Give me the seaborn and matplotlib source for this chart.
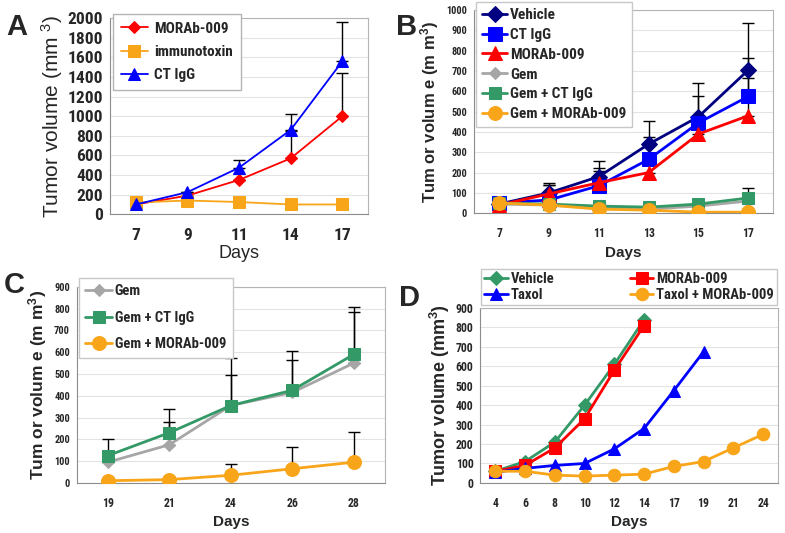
import numpy as np
import matplotlib
matplotlib.use("Agg")
import matplotlib.pyplot as plt
import seaborn as sns

# ---- data ----
# panel A
days_a = ["7", "9", "11", "14", "17"]
a_morab = [100, 190, 350, 570, 1000]
a_immuno = [120, 140, 125, 100, 100]
a_ctigg = [100, 225, 475, 860, 1560]
a_morab_err = [0, 0, 0, 280, 440]
a_ctigg_err = [0, 0, 75, 165, 405]

# panel B
days_b = ["7", "9", "11", "13", "15", "17"]
b_vehicle = [45, 100, 180, 340, 475, 705]
b_ctigg = [50, 65, 135, 265, 445, 575]
b_morab = [40, 95, 150, 200, 390, 480]
b_gem = [45, 40, 25, 20, 35, 60]
b_gem_ct = [50, 45, 35, 30, 45, 75]
b_gem_morab = [50, 40, 20, 15, 5, 5]
b_vehicle_err = [0, 50, 75, 115, 165, 230]
b_ctigg_err = [0, 75, 90, 110, 130, 190]
b_morab_err = [0, 45, 60, 70, 90, 185]
b_gem_ct_err = [0, 0, 0, 0, 0, 50]

# panel C
days_c = ["19", "21", "24", "26", "28"]
c_gem = [95, 175, 355, 415, 550]
c_gem_ct = [125, 230, 355, 425, 590]
c_gem_morab = [10, 15, 35, 65, 95]
c_gem_err = [50, 105, 140, 150, 235]
c_gem_ct_err = [75, 110, 220, 180, 215]
c_gem_morab_err = [10, 10, 50, 100, 140]

# panel D
days_d = ["4", "6", "8", "10", "12", "14", "17", "19", "21", "24"]
d_vehicle = [60, 110, 210, 400, 610, 840]
d_morab = [60, 90, 180, 330, 580, 810]
d_taxol = [55, 75, 90, 100, 175, 280, 475, 675]
d_taxol_morab = [60, 60, 40, 35, 40, 45, 85, 110, 180, 250]

RED = "#FF0000"
ORANGE = "#F9A51A"
BLUE = "#0000FF"
NAVY = "#000080"
GREY = "#A6A6A6"
GREEN = "#339966"

sns.set_style("white")
plt.rcParams["font.family"] = ["Liberation Sans", "DejaVu Sans"]
plt.rcParams["mathtext.default"] = "regular"
NARROW = ["Roboto Condensed", "Liberation Sans"]

fig = plt.figure(figsize=(7.85, 5.33), dpi=100)


def style_axes(ax, ncat, ymax, ystep, tick_fs, xtick_fs):
    ax.set_xlim(-0.5, ncat - 0.5)
    ax.set_ylim(0, ymax)
    ax.set_yticks(np.arange(0, ymax + 1, ystep))
    ax.yaxis.grid(True, color="#E3E3E3", lw=0.8)
    ax.set_axisbelow(True)
    for s in ["left", "bottom"]:
        ax.spines[s].set_color("#8C8C8C")
    for s in ["top", "right"]:
        ax.spines[s].set_color("#B4B4B4")
    ax.set_xticks(np.arange(ncat))
    ax.set_xticks(np.arange(ncat + 1) - 0.5, minor=True)
    ax.tick_params(axis="x", which="major", length=0, pad=10, labelsize=xtick_fs)
    ax.tick_params(axis="x", which="minor", length=4, color="#B4B4B4", direction="out")
    ax.tick_params(axis="y", length=3, color="#8C8C8C", direction="out", labelsize=tick_fs, pad=2)
    ax.tick_params(labelfontfamily=NARROW[0])
    for t in ax.get_xticklabels() + ax.get_yticklabels():
        t.set_fontweight("bold")


def series(ax, vals, color, marker, ms, lw, label, err=None, zorder=3):
    x = np.arange(len(vals))
    if err is not None:
        ax.errorbar(x, vals, yerr=[np.zeros(len(err)), err], fmt="none",
                    ecolor="black", elinewidth=1, capsize=4, capthick=1, zorder=2)
    sns.lineplot(x=x, y=vals, ax=ax, color=color, marker=marker, markersize=ms,
                 markeredgecolor=color, lw=lw, label=label, zorder=zorder)


def legend_font(size):
    return {"weight": "bold", "size": size, "family": NARROW}


# ---- A ----
ax = fig.add_axes([0.140, 0.598, 0.329, 0.368])
series(ax, a_morab, RED, "D", 6, 1.3, "MORAb-009", a_morab_err)
series(ax, a_immuno, ORANGE, "s", 8, 1.3, "immunotoxin")
series(ax, a_ctigg, BLUE, "^", 8, 1.3, "CT IgG", a_ctigg_err)
ax.set_xticklabels(days_a)
style_axes(ax, 5, 2000, 200, 12.5, 12.5)
ax.set_xlabel("Days", fontsize=13, labelpad=1)
ax.set_ylabel("Tumor volume (mm $^{3}$)", fontsize=15, labelpad=2)
ax.legend(loc="upper left", bbox_to_anchor=(0.012, 1.02), prop=legend_font(11),
          fancybox=False, edgecolor="#B4B4B4", framealpha=1, handlelength=1.8,
          handletextpad=0.4, labelspacing=0.6, borderpad=0.5, borderaxespad=0)

# ---- B ----
ax = fig.add_axes([0.604, 0.600, 0.381, 0.381])
series(ax, b_vehicle, NAVY, "D", 8, 2, "Vehicle", b_vehicle_err)
series(ax, b_ctigg, BLUE, "s", 10, 2, "CT IgG", b_ctigg_err)
series(ax, b_morab, RED, "^", 10, 2, "MORAb-009", b_morab_err)
series(ax, b_gem, GREY, "D", 6, 2, "Gem")
series(ax, b_gem_ct, GREEN, "s", 9, 2, "Gem + CT IgG", b_gem_ct_err)
series(ax, b_gem_morab, ORANGE, "o", 10, 2, "Gem + MORAb-009")
ax.set_xticklabels(days_b)
style_axes(ax, 6, 1000, 100, 7.5, 8.5)
ax.set_xlabel("Days", fontsize=11, fontweight="bold", labelpad=4)
ax.set_ylabel("Tum or volum e (m m$^{3}$)", fontsize=12, fontweight="bold", labelpad=4)
ax.legend(loc="upper left", bbox_to_anchor=(0.007, 1.04), prop=legend_font(11),
          fancybox=False, edgecolor="#C8C8C8", framealpha=1, handlelength=1.6,
          handletextpad=0.2, labelspacing=0.38, borderpad=0.4, borderaxespad=0)

# ---- C ----
ax = fig.add_axes([0.098, 0.094, 0.392, 0.368])
series(ax, c_gem, GREY, "D", 6, 2, "Gem", c_gem_err)
series(ax, c_gem_ct, GREEN, "s", 9, 2, "Gem + CT IgG", c_gem_ct_err)
series(ax, c_gem_morab, ORANGE, "o", 10, 2, "Gem + MORAb-009", c_gem_morab_err)
ax.set_xticklabels(days_c)
style_axes(ax, 5, 900, 100, 7.5, 8.5)
ax.set_xlabel("Days", fontsize=11, fontweight="bold", labelpad=4)
ax.set_ylabel("Tum or volum e (m m$^{3}$)", fontsize=12.5, fontweight="bold", labelpad=4)
ax.legend(loc="upper left", bbox_to_anchor=(0.0065, 1.046), prop=legend_font(10.5),
          fancybox=False, edgecolor="#C8C8C8", framealpha=1, handlelength=1.8,
          handletextpad=0.2, labelspacing=0.85, borderpad=0.45, borderaxespad=0)

# ---- D ----
ax = fig.add_axes([0.612, 0.094, 0.379, 0.328])
series(ax, d_vehicle, GREEN, "D", 7, 2, "Vehicle")
series(ax, d_morab, RED, "s", 8, 2, "MORAb-009")
series(ax, d_taxol, BLUE, "^", 9, 2, "Taxol")
series(ax, d_taxol_morab, ORANGE, "o", 9, 2, "Taxol + MORAb-009")
ax.set_xticklabels(days_d)
style_axes(ax, 10, 900, 100, 8.5, 8.5)
ax.set_xlabel("Days", fontsize=11, fontweight="bold", labelpad=4)
ax.set_ylabel("Tumor volume (mm$^{3}$)", fontsize=13, fontweight="bold", labelpad=3)
h, l = ax.get_legend_handles_labels()
order = [0, 2, 1, 3]
ax.legend([h[i] for i in order], [l[i] for i in order], loc="lower center",
          bbox_to_anchor=(0.5, 1.02), ncol=2, prop=legend_font(10.5),
          fancybox=False, edgecolor="#C8C8C8", framealpha=1, handlelength=1.6,
          handletextpad=0.2, labelspacing=0.1, borderpad=0.2, columnspacing=5.2,
          borderaxespad=0)

# panel letters
for lab, (x, y) in zip("ABCD", [(0.008, 0.935), (0.505, 0.935), (0.005, 0.45), (0.508, 0.425)]):
    fig.text(x, y, lab, fontsize=21, fontweight="bold")

fig.savefig("out.png", dpi=100)
